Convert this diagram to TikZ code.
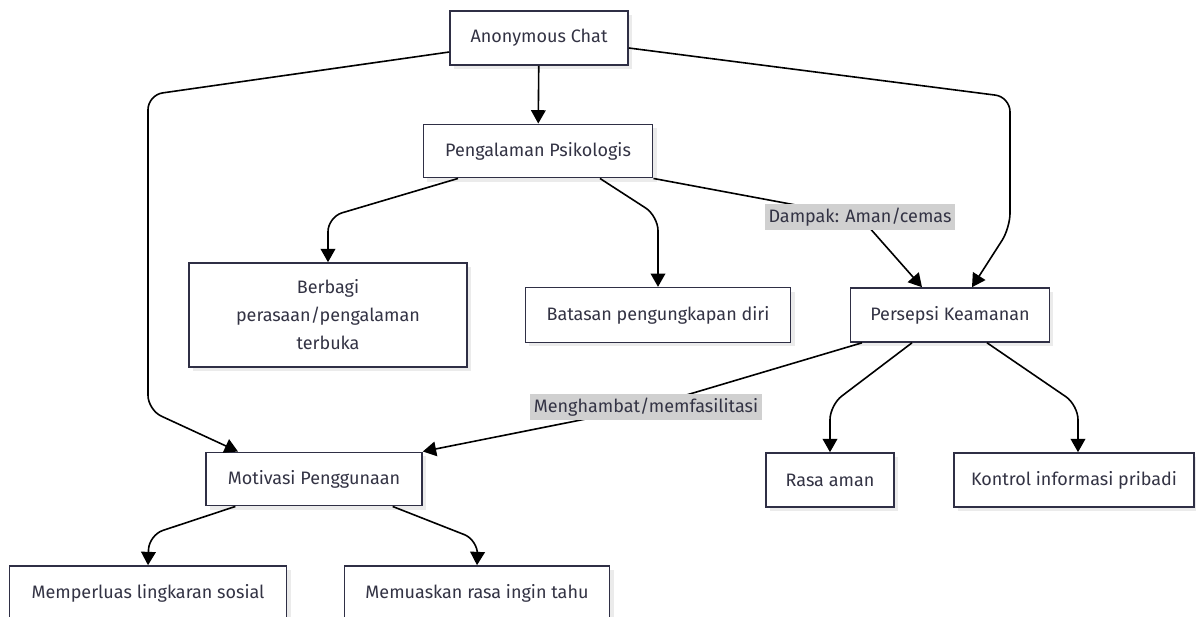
\documentclass[tikz,border=0pt]{standalone}
\usepackage{fontspec}
\setmainfont{Fira Sans}
\usetikzlibrary{arrows.meta,shadows}
\definecolor{inkcol}{HTML}{333344}
\definecolor{framecol}{HTML}{2F2F45}
\definecolor{tagcol}{HTML}{D0D0D0}
\tikzset{>={Triangle[width=11pt,length=10pt]}}
\tikzset{
  box/.style={draw=framecol, line width=1.2pt, fill=white, text=inkcol,
    align=center, inner sep=0pt, font=\fontsize{13.5}{21}\selectfont,
    drop shadow={shadow xshift=3pt, shadow yshift=-3pt, fill=black!8, opacity=1}},
  tag/.style={fill=tagcol, text=inkcol, inner sep=3pt, sharp corners,
    font=\fontsize{13.5}{16}\selectfont},
  edge/.style={->, line width=1.2pt, rounded corners=11pt},
}

\begin{document}
\begin{tikzpicture}[x=0.75pt,y=-0.75pt]
  \useasboundingbox (0,0) rectangle (1196,617);
  \fill[white] (0,0) rectangle (1196,617);

  % boxes
  \node[box, minimum width=133.5pt, minimum height=40.5pt] (anon) at (539,38) {Anonymous Chat};
  \node[box, minimum width=172pt, minimum height=40pt] (psiko) at (538,151) {Pengalaman Psikologis};
  \node[box, minimum width=208.5pt, minimum height=78pt] (berbagi) at (328,315) {Berbagi\\perasaan/pengalaman\\terbuka};
  \node[box, minimum width=199pt, minimum height=41pt] (batasan) at (658,315) {Batasan pengungkapan diri};
  \node[box, minimum width=149pt, minimum height=40.5pt] (persepsi) at (950,315) {Persepsi Keamanan};
  \node[box, minimum width=162pt, minimum height=40pt] (motivasi) at (314,479) {Motivasi Penggunaan};
  \node[box, minimum width=96pt, minimum height=40.5pt] (rasa) at (830,480) {Rasa aman};
  \node[box, minimum width=180pt, minimum height=40.5pt] (kontrol) at (1074,480) {Kontrol informasi pribadi};
  \node[box, minimum width=208pt, minimum height=40.5pt] (luas) at (148,593) {Memperluas lingkaran sosial};
  \node[box, minimum width=199pt, minimum height=40.5pt] (puas) at (477,593) {Memuaskan rasa ingin tahu};

  % connectors
  \draw[edge] (anon) -- (psiko);
  \draw[edge] ([yshift=-10.5pt]anon.west) -- (148,95) -- (148,410) -- ([xshift=-57pt]motivasi.north);
  \draw[edge] ([yshift=-7.5pt]anon.east) -- (1010,97) -- (1010,228) -- ([xshift=16.5pt]persepsi.north);
  \draw[edge] ([xshift=-60pt]psiko.south) -- (328,217) -- (berbagi.north);
  \draw[edge] ([xshift=46.5pt]psiko.south) -- (658,216) -- (batasan.north);
  \draw[edge] (psiko.south east) -- (860,217)
    node[tag] (dampak) {Dampak: Aman/cemas} -- ([xshift=-21pt]persepsi.north);
  \draw[edge] ([xshift=-66pt]persepsi.south) -- (646,407)
    node[tag] (hambat) {Menghambat/memfasilitasi} -- (motivasi.north east);
  \draw[edge] ([xshift=-28.5pt]persepsi.south) -- (830,405) -- (rasa.north);
  \draw[edge] ([xshift=27.75pt]persepsi.south) -- (1078,405) -- ([xshift=3pt]kontrol.north);
  \draw[edge] ([xshift=-59pt]motivasi.south) -- (149,535) -- (luas.north);
  \draw[edge] ([xshift=59pt]motivasi.south) -- (478,540) -- (puas.north);
\end{tikzpicture}
\end{document}
